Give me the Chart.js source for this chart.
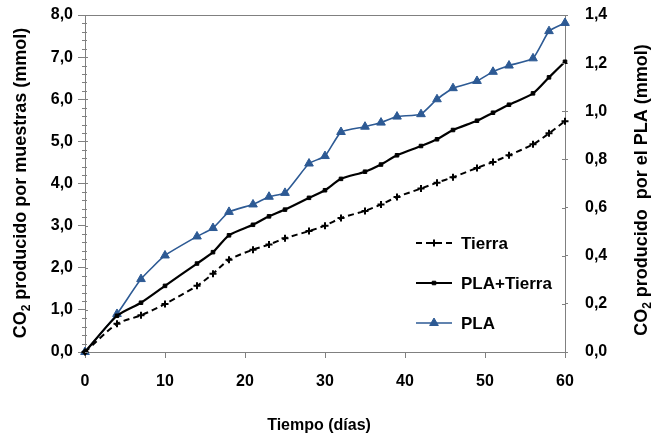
<!DOCTYPE html>
<html>
<head>
<meta charset="utf-8">
<script src="https://cdn.jsdelivr.net/npm/chart.js@4.4.1/dist/chart.umd.min.js"></script>
<style>
  html, body { margin: 0; padding: 0; background: #fff; }
  #c { display: block; }
</style>
</head>
<body>
<canvas id="c" width="660" height="436"></canvas>
<script>
// Sampling days
const dias = [0, 4, 7, 10, 14, 16, 18, 21, 23, 25, 28, 30, 32, 35, 37, 39, 42, 44, 46, 49, 51, 53, 56, 58, 60];
// CO2 from soil only (mmol, left axis)
const tierra = [0, 0.67, 0.87, 1.14, 1.57, 1.86, 2.19, 2.43, 2.55, 2.70, 2.87, 3.00, 3.18, 3.35, 3.50, 3.68, 3.88, 4.02, 4.15, 4.37, 4.51, 4.67, 4.93, 5.19, 5.48];
// CO2 from PLA + soil (mmol, left axis)
const plaTierra = [0, 0.86, 1.17, 1.57, 2.10, 2.37, 2.77, 3.02, 3.22, 3.38, 3.66, 3.84, 4.11, 4.28, 4.45, 4.67, 4.89, 5.05, 5.27, 5.49, 5.68, 5.87, 6.14, 6.52, 6.89];
// CO2 attributed to PLA (mmol, right axis)
const pla = [0, 0.158, 0.303, 0.401, 0.480, 0.515, 0.582, 0.613, 0.645, 0.661, 0.783, 0.814, 0.914, 0.936, 0.953, 0.978, 0.988, 1.050, 1.096, 1.126, 1.164, 1.190, 1.220, 1.333, 1.367];

const seriesNames = ['Tierra', 'PLA+Tierra', 'PLA'];
const xTitle = 'Tiempo (días)';
const yLeftTitle = ['CO', '2', ' producido por muestras (mmol)'];
const yRightTitle = ['CO', '2', ' producido  por el PLA (mmol)'];

const FONT = '"Liberation Sans", Arial, Helvetica, sans-serif';
const AXIS = '#808080';
const BLUE = '#2d5a94';

const pts = (ys) => dias.map((d, i) => ({ x: d, y: ys[i] }));
const comma = (v) => v.toFixed(1).replace('.', ',');
const isWhole = (v) => Math.abs(v - Math.round(v)) < 1e-6;

// Top frame line, tick details, legend and rotated axis titles with subscript
const decor = {
  id: 'decor',
  afterDraw(chart) {
    const { ctx, chartArea: a, scales } = chart;
    ctx.save();
    ctx.strokeStyle = AXIS;
    ctx.lineWidth = 1;
    ctx.beginPath();
    ctx.moveTo(a.left - 7, a.top + 0.5);
    ctx.lineTo(a.right, a.top + 0.5);
    // left axis: minor ticks crossing the axis, short inner part of major ticks
    for (let v = 0; v <= 8.0001; v += 0.2) {
      const y = Math.round(scales.y.getPixelForValue(v)) + 0.5;
      if (isWhole(v)) { ctx.moveTo(a.left, y); ctx.lineTo(a.left + 3, y); }
      else { ctx.moveTo(a.left - 3, y); ctx.lineTo(a.left + 2, y); }
    }
    // right axis: inner part of ticks
    for (let v = 0; v <= 1.4001; v += 0.2) {
      const y = Math.round(scales.y2.getPixelForValue(v)) + 0.5;
      ctx.moveTo(a.right - 3, y); ctx.lineTo(a.right, y);
    }
    ctx.stroke();

    // legend
    const rows = [243, 283, 323];
    chart.data.datasets.forEach((ds, i) => {
      const y = rows[i];
      ctx.save();
      ctx.strokeStyle = ds.borderColor;
      ctx.lineWidth = ds.borderWidth;
      ctx.setLineDash(ds.borderDash || []);
      ctx.beginPath();
      ctx.moveTo(416, y);
      ctx.lineTo(452, y);
      ctx.stroke();
      ctx.restore();
      ctx.save();
      ctx.fillStyle = ds.pointBackgroundColor;
      ctx.strokeStyle = ds.pointBorderColor;
      ctx.lineWidth = ds.pointBorderWidth || 1;
      Chart.helpers.drawPoint(ctx, {
        pointStyle: ds.pointStyle,
        radius: ds.pointRadius,
        borderWidth: ds.pointBorderWidth || 1,
        rotation: 0
      }, 434, y);
      ctx.restore();
      ctx.fillStyle = '#000';
      ctx.font = `bold 17px ${FONT}`;
      ctx.textBaseline = 'middle';
      ctx.textAlign = 'left';
      ctx.fillText(ds.label, 461, y + 1);
    });

    // x title
    ctx.fillStyle = '#000';
    ctx.font = `bold 16px ${FONT}`;
    ctx.textAlign = 'center';
    ctx.textBaseline = 'middle';
    ctx.fillText(xTitle, 319, 426);

    drawVTitle(ctx, 20, 183, yLeftTitle, 18);
    drawVTitle(ctx, 641, 190, yRightTitle, 18);
    ctx.restore();
  }
};

function drawVTitle(ctx, x, yc, parts, size) {
  const big = `bold ${size}px ${FONT}`;
  const small = `bold ${Math.round(size * 0.68)}px ${FONT}`;
  ctx.save();
  ctx.font = big; const w0 = ctx.measureText(parts[0]).width; const w2 = ctx.measureText(parts[2]).width;
  ctx.font = small; const w1 = ctx.measureText(parts[1]).width;
  const total = w0 + w1 + w2;
  ctx.translate(x, yc);
  ctx.rotate(-Math.PI / 2);
  ctx.fillStyle = '#000';
  ctx.textAlign = 'left';
  ctx.textBaseline = 'alphabetic';
  let cx = -total / 2;
  const base = size * 0.36;
  ctx.font = big; ctx.fillText(parts[0], cx, base); cx += w0;
  ctx.font = small; ctx.fillText(parts[1], cx, base + size * 0.22); cx += w1;
  ctx.font = big; ctx.fillText(parts[2], cx, base);
  ctx.restore();
}

const tickFont = { family: FONT, weight: 'bold', size: 16 };
const noPad = (s) => { s.paddingTop = 0; s.paddingBottom = 0; s.paddingLeft = 0; s.paddingRight = 0; };

new Chart(document.getElementById('c'), {
  type: 'line',
  data: {
    datasets: [
      {
        label: seriesNames[0], data: pts(tierra), yAxisID: 'y',
        borderColor: '#000', borderWidth: 2, borderDash: [6, 4],
        pointStyle: 'cross', pointRadius: 3.5, pointBorderWidth: 2,
        pointBackgroundColor: '#000', pointBorderColor: '#000',
        tension: 0.25, clip: false
      },
      {
        label: seriesNames[1], data: pts(plaTierra), yAxisID: 'y',
        borderColor: '#000', borderWidth: 2.2,
        pointStyle: 'rect', pointRadius: 2.5, pointBorderWidth: 1,
        pointBackgroundColor: '#000', pointBorderColor: '#000',
        tension: 0.25, clip: false
      },
      {
        label: seriesNames[2], data: pts(pla), yAxisID: 'y2',
        borderColor: BLUE, borderWidth: 1.6,
        pointStyle: 'triangle', pointRadius: 5, pointBorderWidth: 1,
        pointBackgroundColor: BLUE, pointBorderColor: BLUE,
        tension: 0.15, clip: false
      }
    ]
  },
  options: {
    responsive: false,
    animation: false,
    devicePixelRatio: 1,
    layout: { padding: { top: 15, left: 0, right: 0, bottom: 0 } },
    plugins: { legend: { display: false }, tooltip: { enabled: false } },
    scales: {
      x: {
        type: 'linear', min: 0, max: 60,
        afterFit(s) { s.height = 84; noPad(s); },
        grid: { drawOnChartArea: false, tickLength: 6, color: AXIS },
        border: { color: AXIS },
        ticks: { stepSize: 10, font: tickFont, color: '#000', padding: 14, maxRotation: 0 }
      },
      y: {
        type: 'linear', position: 'left', min: 0, max: 8,
        afterFit(s) { s.width = 85; noPad(s); },
        grid: {
          drawOnChartArea: false, tickLength: 7, color: AXIS,
          tickColor: (c) => isWhole(c.tick.value) ? AXIS : 'rgba(0,0,0,0)'
        },
        border: { color: AXIS },
        ticks: {
          stepSize: 0.2, autoSkip: false, font: tickFont, color: '#000', padding: 5,
          callback: (v) => isWhole(v) ? comma(Math.round(v)) : ''
        }
      },
      y2: {
        type: 'linear', position: 'right', min: 0, max: 1.4,
        afterFit(s) { s.width = 95; noPad(s); },
        grid: { drawOnChartArea: false, tickLength: 3, color: AXIS },
        border: { color: AXIS },
        ticks: { stepSize: 0.2, autoSkip: false, font: tickFont, color: '#000', padding: 17, callback: (v) => comma(v) }
      }
    }
  },
  plugins: [decor]
});
</script>
</body>
</html>
